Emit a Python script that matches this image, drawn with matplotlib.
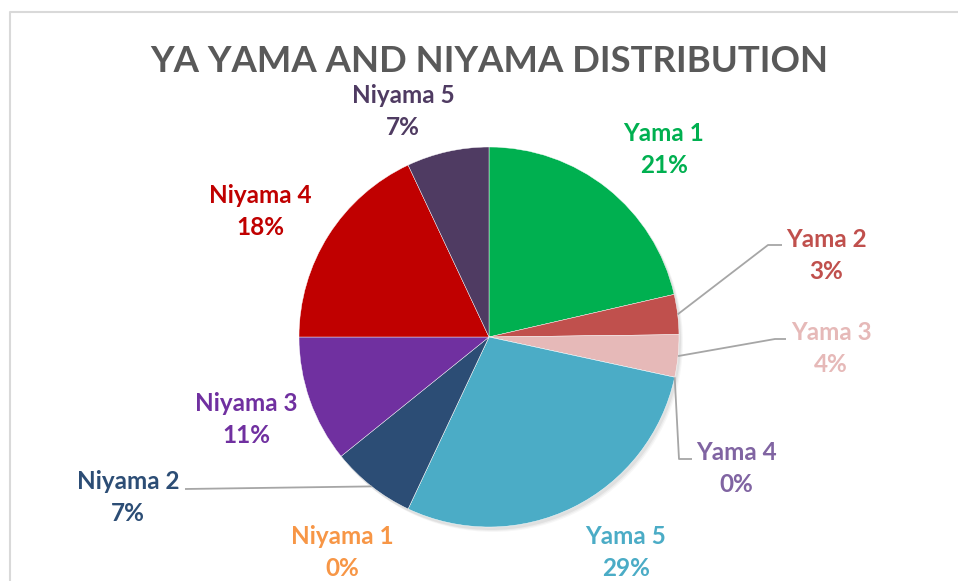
import matplotlib
matplotlib.use("Agg")
import matplotlib.pyplot as plt
import numpy as np

# data
names = ["Yama 1", "Yama 2", "Yama 3", "Yama 4", "Yama 5",
         "Niyama 1", "Niyama 2", "Niyama 3", "Niyama 4", "Niyama 5"]
shares = [21.4, 3.4, 3.6, 0.0, 28.6, 0.0, 7.2, 10.8, 18.0, 7.0]
colors = ["#00B050", "#C0504D", "#E6B9B8", "#8064A2", "#4BACC6",
          "#F79646", "#2C4D75", "#7030A0", "#C00000", "#4F3B62"]

W, H = 958, 581
FONT = "Lato"

fig = plt.figure(figsize=(W / 100, H / 100), dpi=100)
ax = fig.add_axes([0, 0, 1, 1])


def py(y):
    # pixel row (from top) -> data y
    return H - y


cx, cy, r = 489, py(337), 190

# soft shadow
for i, a in enumerate([0.05, 0.04, 0.03]):
    ax.add_patch(plt.Circle((cx + 2 + i, cy - 3 - i), r, color="black", alpha=a, lw=0, zorder=1))

wedges, _ = ax.pie(shares, colors=colors, startangle=90, counterclock=False,
                   center=(cx, cy), radius=r, frame=True,
                   wedgeprops=dict(linewidth=0.3, edgecolor="white", zorder=2))
ax.set_xlim(0, W)
ax.set_ylim(0, H)
ax.set_aspect("equal")
ax.axis("off")

# label positions (x centre, baseline of first line), pixels
label_pos = [(664, 141), (826, 247), (831, 340), (736, 460), (626, 544),
             (342, 544), (128, 489), (246, 411), (260, 203), (403, 103)]

for name, val, col, (lx, ly) in zip(names, shares, colors, label_pos):
    ax.text(lx, py(ly), name, color=col, fontsize=17.5, fontweight="bold",
            family=FONT, ha="center", va="baseline", zorder=5)
    ax.text(lx, py(ly + 32), f"{round(val):.0f}%", color=col, fontsize=17.5,
            fontweight="bold", family=FONT, ha="center", va="baseline", zorder=5)

# leader lines: elbow and end points in pixels, start on the slice edge
leaders = {1: [(768, 245), (782, 245)],
           2: [(775, 339), (786, 339)],
           3: [(679, 459), (692, 459)],
           6: [(185, 489)]}
for idx, pts in leaders.items():
    w = wedges[idx]
    mid = np.deg2rad((w.theta1 + w.theta2) / 2)
    xs = [cx + r * np.cos(mid)] + [p[0] for p in pts]
    ys = [cy + r * np.sin(mid)] + [py(p[1]) for p in pts]
    ax.plot(xs, ys, color="#A6A6A6", lw=1.3, zorder=4, solid_capstyle="butt")

ax.text(489, py(72), "YA YAMA AND NIYAMA DISTRIBUTION", color="#595959",
        fontsize=26.3, fontweight="bold", family=FONT, ha="center", va="baseline")

# chart border (only top and left edges are inside the picture)
ax.plot([10, 10, W + 5], [-5, py(12), py(12)], color="#D9D9D9", lw=1.5, zorder=0)

fig.savefig("out.png", dpi=100)
